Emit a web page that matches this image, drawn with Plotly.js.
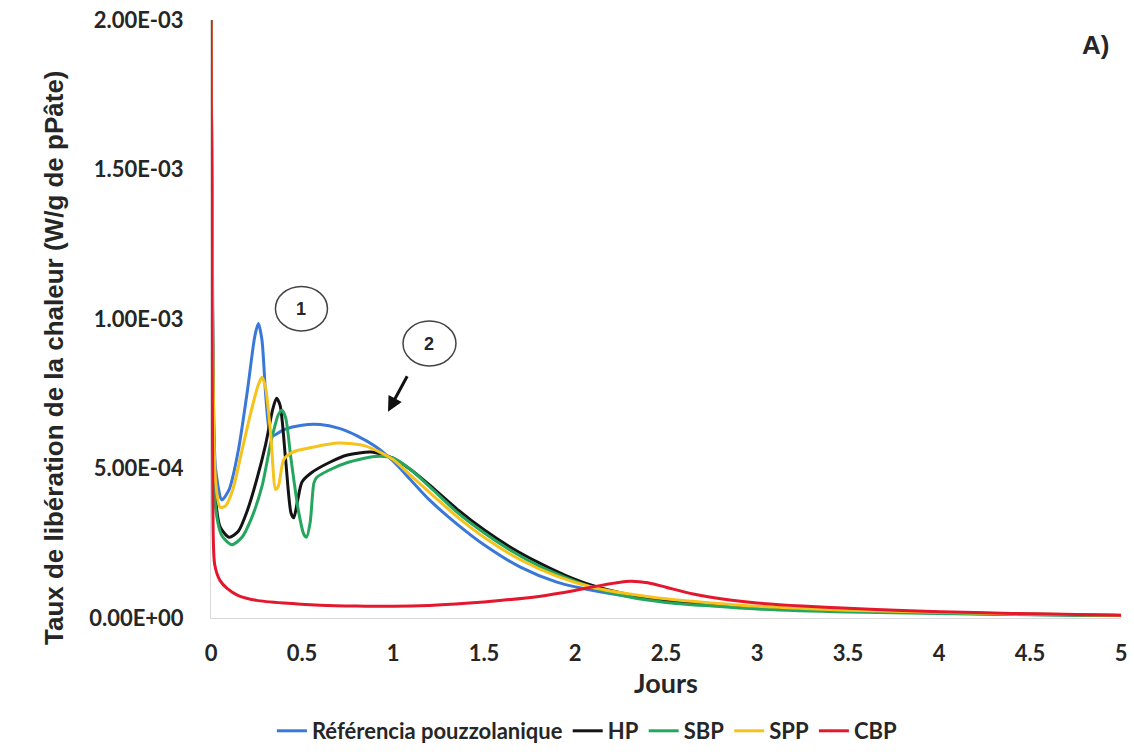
<!DOCTYPE html>
<html>
<head>
<meta charset="utf-8">
<script src="https://cdn.plot.ly/plotly-3.0.1.min.js"></script>
<style>
  html, body { margin: 0; padding: 0; background: #fff; }
  #chart { width: 1134px; height: 752px; }
</style>
</head>
<body>
<div id="chart"></div>
<script>
// Heat release rate (W/g of paste) against time in days, five pastes.
const seriesNames = ["Référencia pouzzolanique", "HP", "SBP", "SPP", "CBP"];
const seriesColors = ["#3a78d8", "#141414", "#24a65e", "#f6c21c", "#e3172d"];

const refX = [0, 0.01, 0.025, 0.06, 0.1, 0.15, 0.2, 0.24, 0.26, 0.28, 0.3, 0.32, 0.34, 0.4, 0.5, 0.6, 0.7, 0.8, 0.9, 1.0, 1.1, 1.2, 1.35, 1.5, 1.7, 1.9, 2.1, 2.3, 2.5, 2.75, 3.0, 3.5, 4.0, 4.5, 5.0];
const refY = [2.0e-3, 1.0e-3, 5.0e-4, 3.95e-4, 4.3e-4, 5.6e-4, 7.6e-4, 9.4e-4, 9.85e-4, 9.3e-4, 7.5e-4, 6.3e-4, 6.1e-4, 6.3e-4, 6.45e-4, 6.47e-4, 6.35e-4, 6.1e-4, 5.75e-4, 5.25e-4, 4.6e-4, 3.95e-4, 3.15e-4, 2.45e-4, 1.7e-4, 1.2e-4, 9.2e-5, 7.2e-5, 5.8e-5, 4.5e-5, 3.6e-5, 2.5e-5, 1.8e-5, 1.3e-5, 8e-6];

const hpX = [0, 0.01, 0.025, 0.05, 0.1, 0.15, 0.2, 0.25, 0.3, 0.34, 0.36, 0.38, 0.41, 0.44, 0.455, 0.475, 0.5, 0.55, 0.65, 0.75, 0.88, 1.0, 1.1, 1.2, 1.35, 1.5, 1.65, 1.8, 1.95, 2.1, 2.3, 2.5, 2.75, 3.0, 3.5, 4.0, 4.5, 5.0];
const hpY = [2.0e-3, 8.5e-4, 4.0e-4, 3.05e-4, 2.7e-4, 2.9e-4, 3.6e-4, 4.6e-4, 5.8e-4, 7.0e-4, 7.35e-4, 7.1e-4, 5.3e-4, 3.5e-4, 3.35e-4, 3.9e-4, 4.55e-4, 4.85e-4, 5.2e-4, 5.45e-4, 5.55e-4, 5.35e-4, 4.95e-4, 4.45e-4, 3.65e-4, 2.95e-4, 2.35e-4, 1.85e-4, 1.42e-4, 1.08e-4, 7.8e-5, 6.0e-5, 4.5e-5, 3.5e-5, 2.4e-5, 1.7e-5, 1.2e-5, 8e-6];

const sbpX = [0, 0.01, 0.025, 0.06, 0.115, 0.17, 0.22, 0.28, 0.33, 0.37, 0.39, 0.41, 0.44, 0.48, 0.51, 0.525, 0.545, 0.565, 0.58, 0.65, 0.75, 0.9, 1.0, 1.1, 1.2, 1.35, 1.5, 1.65, 1.8, 1.95, 2.1, 2.3, 2.5, 2.75, 3.0, 3.5, 4.0, 4.5, 5.0];
const sbpY = [2.0e-3, 8.0e-4, 3.7e-4, 2.75e-4, 2.45e-4, 2.7e-4, 3.3e-4, 4.4e-4, 5.9e-4, 6.8e-4, 6.95e-4, 6.7e-4, 5.3e-4, 3.6e-4, 2.8e-4, 2.7e-4, 3.2e-4, 4.5e-4, 4.7e-4, 4.95e-4, 5.2e-4, 5.4e-4, 5.35e-4, 4.95e-4, 4.4e-4, 3.55e-4, 2.85e-4, 2.25e-4, 1.75e-4, 1.35e-4, 1.02e-4, 7.0e-5, 5.2e-5, 4.0e-5, 3.0e-5, 2.0e-5, 1.5e-5, 1.1e-5, 8e-6];

const sppX = [0, 0.01, 0.025, 0.05, 0.08, 0.12, 0.17, 0.22, 0.26, 0.28, 0.3, 0.33, 0.355, 0.37, 0.4, 0.45, 0.55, 0.7, 0.85, 1.0, 1.1, 1.2, 1.35, 1.5, 1.7, 1.9, 2.1, 2.3, 2.5, 2.75, 3.0, 3.5, 4.0, 4.5, 5.0];
const sppY = [2.0e-3, 9.0e-4, 4.6e-4, 3.7e-4, 3.75e-4, 4.3e-4, 5.6e-4, 6.9e-4, 7.8e-4, 8.05e-4, 7.7e-4, 6.0e-4, 4.3e-4, 4.4e-4, 5.3e-4, 5.55e-4, 5.7e-4, 5.85e-4, 5.75e-4, 5.3e-4, 4.75e-4, 4.2e-4, 3.4e-4, 2.7e-4, 1.95e-4, 1.4e-4, 1.02e-4, 8.0e-5, 6.4e-5, 5.0e-5, 3.9e-5, 2.6e-5, 1.9e-5, 1.3e-5, 9e-6];

const cbpX = [0, 0.005, 0.01, 0.02, 0.05, 0.09, 0.15, 0.25, 0.4, 0.6, 0.8, 1.0, 1.2, 1.4, 1.6, 1.8, 2.0, 2.15, 2.3, 2.4, 2.5, 2.65, 2.85, 3.0, 3.25, 3.5, 3.8, 4.2, 4.6, 5.0];
const cbpY = [2.0e-3, 1.2e-3, 4.0e-4, 1.8e-4, 1.25e-4, 9.8e-5, 7.5e-5, 5.9e-5, 5.0e-5, 4.3e-5, 4.0e-5, 3.9e-5, 4.2e-5, 4.9e-5, 5.9e-5, 7.2e-5, 9.2e-5, 1.1e-4, 1.23e-4, 1.18e-4, 1.03e-4, 8.0e-5, 6.0e-5, 5.0e-5, 4.0e-5, 3.3e-5, 2.5e-5, 1.8e-5, 1.3e-5, 9e-6];

const xTicks = [0, 0.5, 1, 1.5, 2, 2.5, 3, 3.5, 4, 4.5, 5];
const yTickVals = [0, 5e-4, 1e-3, 1.5e-3, 2e-3];
const yTickText = ["0.00E+00", "5.00E-04", "1.00E-03", "1.50E-03", "2.00E-03"];

const xs = [refX, hpX, sbpX, sppX, cbpX];
const ys = [refY, hpY, sbpY, sppY, cbpY];

const tickFont = { family: "Lato, 'Open Sans', sans-serif", size: 22, color: "#262626", weight: 700 };
const arialBold = { family: "'Liberation Sans', Arial, sans-serif", color: "#262626", weight: 700 };

const traces = seriesNames.map((name, i) => ({
  type: "scatter",
  mode: "lines",
  name: name,
  x: xs[i],
  y: ys[i],
  line: { color: seriesColors[i], width: 3, shape: "spline", smoothing: 0.7 },
  hoverinfo: "x+y+name"
}));

const layout = {
  width: 1134,
  height: 752,
  margin: { l: 211, r: 13, t: 20, b: 134, pad: 0 },
  paper_bgcolor: "#ffffff",
  plot_bgcolor: "#ffffff",
  showlegend: true,
  legend: {
    orientation: "h",
    xref: "container", yref: "container",
    x: 0.518, xanchor: "center",
    y: -0.008, yanchor: "bottom",
    font: { family: "Lato, sans-serif", size: 22, color: "#262626", weight: 700 },
    itemwidth: 30,
    tracegroupgap: 0
  },
  xaxis: {
    range: [0, 5],
    tickvals: xTicks,
    ticks: "outside", ticklen: 16, tickcolor: "rgba(0,0,0,0)",
    showgrid: false, zeroline: false,
    showline: true, linecolor: "#d9d9d9", linewidth: 1,
    tickfont: tickFont,
    title: { text: "Jours", font: { family: "Lato, sans-serif", size: 27, color: "#262626", weight: 700 }, standoff: 8 }
  },
  yaxis: {
    range: [0, 2e-3],
    tickvals: yTickVals,
    ticktext: yTickText,
    ticks: "outside", ticklen: 22, tickcolor: "rgba(0,0,0,0)",
    showgrid: false, zeroline: false,
    showline: true, linecolor: "#d9d9d9", linewidth: 1,
    tickfont: tickFont
  },
  shapes: [
    { type: "circle", xref: "x", yref: "y", x0: 0.354, x1: 0.64, y0: 9.6e-4, y1: 1.109e-3,
      line: { color: "#444444", width: 1.5 } },
    { type: "circle", xref: "x", yref: "y", x0: 1.055, x1: 1.346, y0: 8.43e-4, y1: 9.93e-4,
      line: { color: "#444444", width: 1.5 } }
  ],
  annotations: [
    { text: "Taux de libération de la chaleur (W/g de pPâte)", textangle: -90,
      xref: "paper", yref: "paper", x: (54 - 211) / 910, y: (618 - 358) / 598,
      xanchor: "center", yanchor: "middle", showarrow: false,
      font: Object.assign({ size: 26 }, arialBold) },
    { text: "1", xref: "x", yref: "y", x: 0.497, y: 1.035e-3, showarrow: false,
      font: Object.assign({ size: 18 }, arialBold) },
    { text: "2", xref: "x", yref: "y", x: 1.2, y: 9.18e-4, showarrow: false,
      font: Object.assign({ size: 18 }, arialBold) },
    { text: "", xref: "x", yref: "y", x: 0.9725, y: 6.9e-4, showarrow: true,
      ax: 20, ay: -37, arrowhead: 2, arrowsize: 1, arrowwidth: 3, arrowcolor: "#111111" },
    { text: "A)", xref: "paper", yref: "paper", x: (1095 - 211) / 910, y: (618 - 45) / 598,
      xanchor: "center", yanchor: "middle", showarrow: false,
      font: Object.assign({ size: 26 }, arialBold) }
  ]
};

Plotly.newPlot("chart", traces, layout, { displayModeBar: false, staticPlot: true });
</script>
</body>
</html>
